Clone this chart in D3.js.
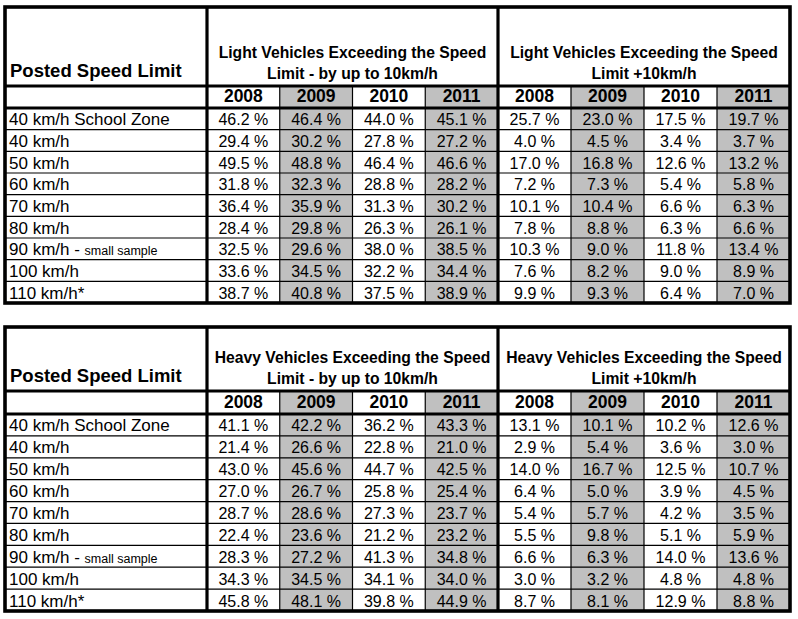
<!DOCTYPE html>
<html><head><meta charset="utf-8">
<script src="https://cdn.jsdelivr.net/npm/d3@7"></script>
<style>body{margin:0;background:#fff}svg{display:block}text{font-family:"Liberation Sans",Arial,sans-serif;fill:#000}</style>
</head><body><svg id="c" width="798" height="619"></svg>
<script>
const speedLimits = ["40 km/h School Zone","40 km/h","50 km/h","60 km/h","70 km/h","80 km/h","90 km/h - small sample","100 km/h","110 km/h*"];
const years = ["2008","2009","2010","2011"];
const lightUpTo10 = [[46.2,46.4,44.0,45.1],[29.4,30.2,27.8,27.2],[49.5,48.8,46.4,46.6],[31.8,32.3,28.8,28.2],[36.4,35.9,31.3,30.2],[28.4,29.8,26.3,26.1],[32.5,29.6,38.0,38.5],[33.6,34.5,32.2,34.4],[38.7,40.8,37.5,38.9]];
const lightOver10 = [[25.7,23.0,17.5,19.7],[4.0,4.5,3.4,3.7],[17.0,16.8,12.6,13.2],[7.2,7.3,5.4,5.8],[10.1,10.4,6.6,6.3],[7.8,8.8,6.3,6.6],[10.3,9.0,11.8,13.4],[7.6,8.2,9.0,8.9],[9.9,9.3,6.4,7.0]];
const heavyUpTo10 = [[41.1,42.2,36.2,43.3],[21.4,26.6,22.8,21.0],[43.0,45.6,44.7,42.5],[27.0,26.7,25.8,25.4],[28.7,28.6,27.3,23.7],[22.4,23.6,21.2,23.2],[28.3,27.2,41.3,34.8],[34.3,34.5,34.1,34.0],[45.8,48.1,39.8,44.9]];
const heavyOver10 = [[13.1,10.1,10.2,12.6],[2.9,5.4,3.6,3.0],[14.0,16.7,12.5,10.7],[6.4,5.0,3.9,4.5],[5.4,5.7,4.2,3.5],[5.5,9.8,5.1,5.9],[6.6,6.3,14.0,13.6],[3.0,3.2,4.8,4.8],[8.7,8.1,12.9,8.8]];
const rowLabel = "Posted Speed Limit";
const tables = [
  {headers:[["Light Vehicles Exceeding the Speed","Limit - by up to 10km/h"],["Light Vehicles Exceeding the Speed","Limit +10km/h"]], groups:[lightUpTo10, lightOver10], top:7, headBottom:86, yearBottom:108, bottom:303},
  {headers:[["Heavy Vehicles Exceeding the Speed","Limit - by up to 10km/h"],["Heavy Vehicles Exceeding the Speed","Limit +10km/h"]], groups:[heavyUpTo10, heavyOver10], top:327, headBottom:391, yearBottom:414, bottom:611}
];

const svg = d3.select("#c");
const left = 5, labelRight = 207, mid = 498, right = 790;
const gx = [d3.scaleBand().domain(years).range([labelRight, mid]), d3.scaleBand().domain(years).range([mid, right])];
const fmt = d3.format(".1f");

tables.forEach(t => {
  const g = svg.append("g");
  const y = d3.scaleBand().domain(d3.range(speedLimits.length)).range([t.yearBottom, t.bottom]);
  gx.forEach(x => {
    ["2009","2011"].forEach(yr => {
      g.append("rect").attr("x", x(yr)).attr("y", t.headBottom).attr("width", x.bandwidth()).attr("height", t.bottom - t.headBottom).attr("fill", "#c0c0c0");
    });
  });
  y.domain().slice(1).forEach(i => {
    g.append("line").attr("x1", left).attr("x2", right).attr("y1", y(i)).attr("y2", y(i)).attr("stroke", "#000").attr("stroke-width", 1.2);
  });
  gx.forEach(x => {
    years.slice(1).forEach(yr => {
      g.append("line").attr("x1", x(yr)).attr("x2", x(yr)).attr("y1", t.headBottom).attr("y2", t.bottom).attr("stroke", "#000").attr("stroke-width", 1.2);
    });
  });
  const thick = 3.2;
  [t.headBottom, t.yearBottom].forEach(yy => g.append("line").attr("x1", left).attr("x2", right).attr("y1", yy).attr("y2", yy).attr("stroke", "#000").attr("stroke-width", thick));
  [labelRight, mid].forEach(xx => g.append("line").attr("x1", xx).attr("x2", xx).attr("y1", t.top).attr("y2", t.bottom).attr("stroke", "#000").attr("stroke-width", thick));
  g.append("rect").attr("x", left).attr("y", t.top).attr("width", right - left).attr("height", t.bottom - t.top).attr("fill", "none").attr("stroke", "#000").attr("stroke-width", 3.6);

  g.append("text").attr("x", left + 5).attr("y", t.headBottom - 9).attr("font-size", 18.5).attr("font-weight", "bold").text(rowLabel);
  t.headers.forEach((h, gi) => {
    const cx = (gx[gi].range()[0] + gx[gi].range()[1]) / 2;
    h.forEach((line, li) => {
      g.append("text").attr("x", cx).attr("y", t.headBottom - 28 + li * 21).attr("text-anchor", "middle").attr("font-size", 15.7).attr("font-weight", "bold").text(line);
    });
    years.forEach(yr => {
      g.append("text").attr("x", gx[gi](yr) + gx[gi].bandwidth() / 2).attr("y", t.yearBottom - 6).attr("text-anchor", "middle").attr("font-size", 17.5).attr("font-weight", "bold").text(yr);
    });
  });
  speedLimits.forEach((lab, i) => {
    const tx = g.append("text").attr("x", left + 4).attr("y", y(i) + y.bandwidth() / 2 + 6.5).attr("font-size", 17);
    const m = lab.match(/^(.*- )(small sample)$/);
    if (m) { tx.append("tspan").text(m[1]); tx.append("tspan").attr("font-size", 12.5).text(m[2]); }
    else tx.text(lab);
  });
  t.groups.forEach((data, gi) => {
    data.forEach((row, i) => {
      row.forEach((v, j) => {
        g.append("text").attr("x", gx[gi](years[j]) + gx[gi].bandwidth() / 2).attr("y", y(i) + y.bandwidth() / 2 + 6.5)
          .attr("text-anchor", "middle").attr("font-size", 16).attr("fill", "#111").text(fmt(v) + " %");
      });
    });
  });
});
</script></body></html>
